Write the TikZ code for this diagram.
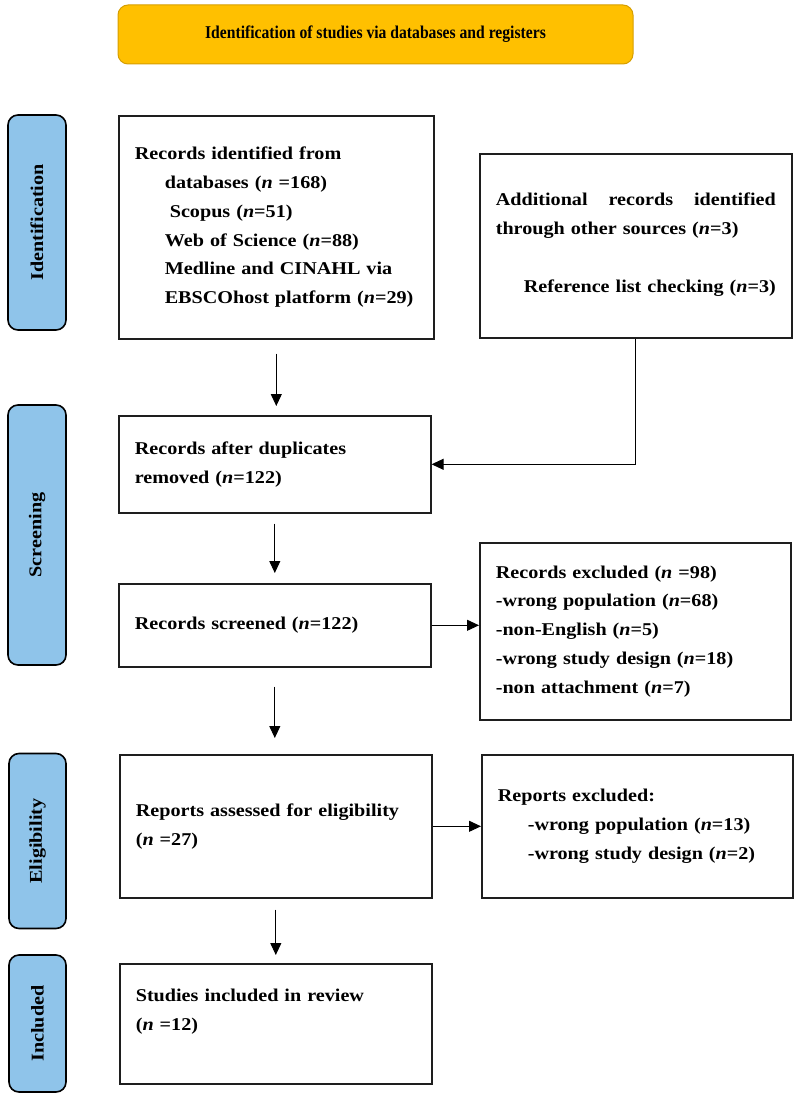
\documentclass[tikz,border=0pt]{standalone}
\usepackage{fontspec}
\setmainfont{Liberation Serif}[FakeStretch=1.12]
\newfontfamily\titlefont{Liberation Serif}[FakeStretch=0.87]
\usetikzlibrary{arrows.meta}
\definecolor{titlefill}{RGB}{255,192,0}
\definecolor{titledraw}{RGB}{214,158,0}
\definecolor{lblue}{RGB}{143,196,234}
\definecolor{boxline}{RGB}{30,30,30}
\tikzset{
  box/.style={draw=boxline, line width=1.6pt, inner xsep=16pt, inner ysep=0pt,
    align=left, anchor=north west, font=\bfseries\fontsize{18}{28.7}\selectfont},
  phase/.style={draw=black, fill=lblue, line width=1.6pt, rounded corners=10pt,
    rotate=90, inner sep=0pt, font=\bfseries\fontsize{18}{22}\selectfont},
  titlebar/.style={draw=titledraw, fill=titlefill, line width=1pt, rounded corners=10pt,
    inner sep=0pt, font=\titlefont\bfseries\fontsize{18}{21}\selectfont},
  arr/.style={line width=1pt, draw=black, -{Triangle[length=12pt,width=11pt]}}
}
\begin{document}
\begin{tikzpicture}[x=1pt,y=-1pt]
\useasboundingbox (0,0) rectangle (799,1099);
% title
\node[titlebar, minimum width=515pt, minimum height=59pt] (title) at (375.5,34.5)
  {Identification of studies via databases and registers};
% phase labels
\node[phase, minimum width=215pt, minimum height=58pt] (p1) at (37,222.5) {Identification};
\node[phase, minimum width=260pt, minimum height=58pt] (p2) at (37,535) {Screening};
\node[phase, minimum width=175pt, minimum height=57pt] (p3) at (37.5,841) {Eligibility};
\node[phase, minimum width=137pt, minimum height=57pt] (p4) at (37.5,1023.5) {Included};
% boxes
\node[box, minimum width=315pt, minimum height=223pt, text width=283pt] (b1) at (118,115)
  {Records identified from\\
   \hspace*{30pt}databases (\textit{n} =168)\\
   \hspace*{35pt}Scopus (\textit{n}=51)\\
   \hspace*{30pt}Web of Science (\textit{n}=88)\\
   \hspace*{30pt}Medline and CINAHL via\\
   \hspace*{30pt}EBSCOhost platform (\textit{n}=29)};
\node[box, minimum width=312pt, minimum height=184pt, text width=280pt] (b2) at (479,153)
  {\mbox{}\\[-18pt]
   Additional\hfill records\hfill identified\\
   through other sources (\textit{n}=3)\\[30pt]
   \hspace*{\fill}Reference list checking (\textit{n}=3)\hspace*{2pt}};
\node[box, minimum width=312pt, minimum height=97pt, text width=280pt] (b3) at (118,415)
  {Records after duplicates\\
   removed (\textit{n}=122)};
\node[box, minimum width=312pt, minimum height=83pt, text width=280pt] (b4) at (118,583)
  {Records screened (\textit{n}=122)};
\node[box, minimum width=311pt, minimum height=177pt, text width=279pt] (b5) at (479,542)
  {Records excluded (\textit{n} =98)\\
   -wrong population (\textit{n}=68)\\
   -non-English (\textit{n}=5)\\
   -wrong study design (\textit{n}=18)\\
   -non attachment (\textit{n}=7)};
\node[box, minimum width=312pt, minimum height=143pt, text width=280pt] (b6) at (119,754)
  {Reports assessed for eligibility\\
   (\textit{n} =27)};
\node[box, minimum width=311pt, minimum height=143pt, text width=279pt] (b7) at (481,754)
  {Reports excluded:\\
   \hspace*{30pt}-wrong population (\textit{n}=13)\\
   \hspace*{30pt}-wrong study design (\textit{n}=2)};
\node[box, minimum width=312pt, minimum height=120pt, text width=280pt] (b8) at (119,963)
  {Studies included in review\\
   (\textit{n} =12)\\
   \mbox{}};
% connectors
\draw[arr, shorten <=14pt, shorten >=9pt] (b1.south) -- (b1.south |- b3.north);
\draw[arr] (b2.south) |- (b3.east);
\draw[arr, shorten <=10pt, shorten >=10pt] (b3.south) -- (b3.south |- b4.north);
\draw[arr] (b4.east) -- (b4.east -| b5.west);
\draw[arr, shorten <=19pt, shorten >=16pt] (b4.south) -- (b4.south |- b6.north);
\draw[arr] (b6.east) -- (b6.east -| b7.west);
\draw[arr, shorten <=11pt, shorten >=8pt] (b6.south) -- (b6.south |- b8.north);
\end{tikzpicture}
\end{document}
